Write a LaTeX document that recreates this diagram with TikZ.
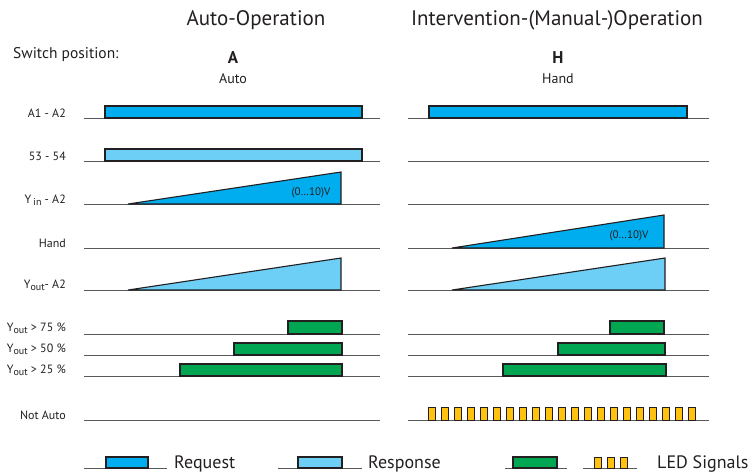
\documentclass[tikz,border=0pt]{standalone}
\usepackage{fontspec}
\setmainfont{PT Sans}

\definecolor{reqblue}{HTML}{00AEEF}
\definecolor{respblue}{HTML}{6DCFF6}
\definecolor{ledgreen}{HTML}{00A651}
\definecolor{ledyellow}{HTML}{FFC20E}
\definecolor{edgegray}{HTML}{231F20}
\definecolor{linegray}{HTML}{58595B}
\definecolor{txtgray}{HTML}{231F20}

% lowered index text for the Y labels
\newcommand{\lowidx}[1]{\raisebox{-0.45ex}{\fontsize{10}{12}\selectfont #1}}

\tikzset{
  timeline/.style={draw=linegray, line width=0.9pt},
  req/.style={fill=reqblue, draw=edgegray, line width=1.1pt},
  resp/.style={fill=respblue, draw=edgegray, line width=1.1pt},
  grn/.style={fill=ledgreen, draw=edgegray, line width=1.1pt},
  blink/.style={fill=ledyellow, draw=edgegray, line width=1pt},
  rowlbl/.style={anchor=base east, text=txtgray, font=\fontsize{12}{14}\selectfont, inner sep=0pt},
  title/.style={text=txtgray, font=\fontsize{21}{25}\selectfont},
  volt/.style={text=txtgray, font=\fontsize{11}{13}\selectfont, inner sep=0pt},
  legtxt/.style={anchor=base west, text=txtgray, font=\fontsize{18}{22}\selectfont, inner sep=0pt}
}

\begin{document}
\begin{tikzpicture}[x=1pt, y=-1pt]

  \useasboundingbox (0,0) rectangle (752,475);

  % --- Headings ---
  \node[title] (autotitle) at (256,20) {Auto-Operation};
  \node[title] (mantitle) at (557,20) {Intervention-(Manual-)Operation};
  \node[anchor=west, text=txtgray, font=\fontsize{15.5}{18}\selectfont, inner sep=0pt] (switchlbl) at (13,55) {Switch position:};
  \node[text=txtgray, font=\fontsize{17}{20}\selectfont\bfseries] (posA) at (233,58) {A};
  \node[text=txtgray, font=\fontsize{14}{16}\selectfont] (posAuto) at (233,79) {Auto};
  \node[text=txtgray, font=\fontsize{17}{20}\selectfont\bfseries] (posH) at (558,58) {H};
  \node[text=txtgray, font=\fontsize{14}{16}\selectfont] (posHand) at (558,79) {Hand};

  % --- Row labels ---
  \node[rowlbl] (lblA) at (66,117) {A1 - A2};
  \node[rowlbl] (lblC) at (66,160) {53 - 54};
  \node[rowlbl] (lblYin) at (66,203) {Y\,\lowidx{in} - A2};
  \node[rowlbl] (lblHand) at (66,247) {Hand};
  \node[rowlbl] (lblYout) at (66,288) {Y\lowidx{out}- A2};
  \node[rowlbl] (lblSev) at (66,331) {Y\lowidx{out} > 75 \%};
  \node[rowlbl] (lblFif) at (66,352) {Y\lowidx{out} > 50 \%};
  \node[rowlbl] (lblTwe) at (66,373) {Y\lowidx{out} > 25 \%};
  \node[rowlbl] (lblNot) at (66,419) {Not Auto};

  % --- Time lines ---
  \foreach \y in {118,161,204,248,290,334,355,376,420} {
    \draw[timeline] (84,\y) -- (380,\y);
    \draw[timeline] (408,\y) -- (709,\y);
  }

  % --- Auto-Operation ---
  \draw[req] (105,118) rectangle (362,106);
  \draw[resp] (105,161) rectangle (362,149);
  \draw[req] (128,204) -- (341,172) -- (341,204) -- cycle;
  \node[volt] (voltA) at (311,193) {(0…10)V};
  \draw[resp] (128,290) -- (341,258) -- (341,290) -- cycle;
  \draw[grn] (288,334) rectangle (342,321);
  \draw[grn] (234,355) rectangle (342,343);
  \draw[grn] (180,376) rectangle (342,364);

  % --- Manual-Operation ---
  \draw[req] (429,118) rectangle (687,106);
  \draw[req] (452,248) -- (664,215) -- (664,248) -- cycle;
  \node[volt] (voltH) at (629,236) {(0…10)V};
  \draw[resp] (452,290) -- (665,258) -- (665,290) -- cycle;
  \draw[grn] (610,334) rectangle (664,321);
  \draw[grn] (558,355) rectangle (665,343);
  \draw[grn] (503,376) rectangle (666,364);
  \foreach \i in {0,...,20}
    \draw[blink] ({428+13*\i},420) rectangle ({435+13*\i},407);

  % --- Legend ---
  \draw[timeline] (84,468) -- (167,468);
  \draw[req] (106,468) rectangle (148,457);
  \node[legtxt] (legReq) at (174,468) {Request};

  \draw[timeline] (278,468) -- (362,468);
  \draw[resp] (298,468) rectangle (342,457);
  \node[legtxt] (legResp) at (368,468) {Response};

  \draw[timeline] (505,468) -- (567,468);
  \draw[grn] (513,468) rectangle (557,457);

  \draw[timeline] (583,468) -- (637,468);
  \foreach \x in {594,607,620}
    \draw[blink] (\x,468) rectangle (\x+7,457);
  \node[legtxt] (legLed) at (657,468) {LED Signals};

\end{tikzpicture}
\end{document}
